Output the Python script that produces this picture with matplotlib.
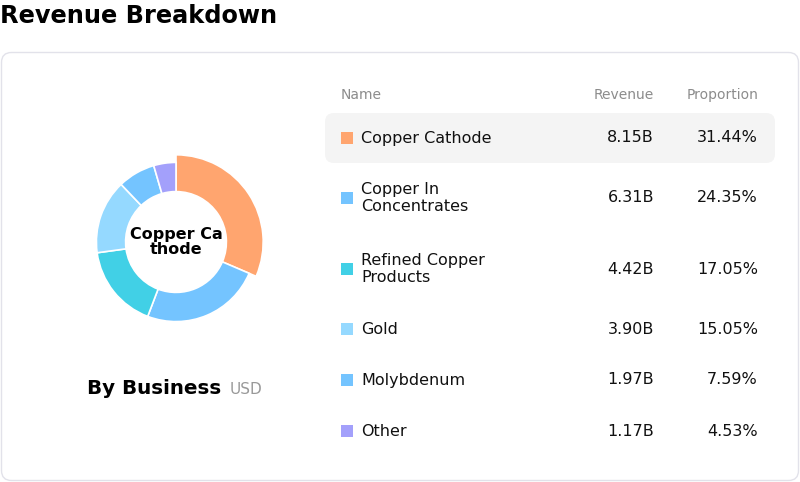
import matplotlib
matplotlib.use("Agg")
import matplotlib.pyplot as plt
from matplotlib.patches import FancyBboxPatch, Rectangle

# data
names = ["Copper Cathode", "Copper In\nConcentrates", "Refined Copper\nProducts",
         "Gold", "Molybdenum", "Other"]
revenue = [8.15, 6.31, 4.42, 3.90, 1.97, 1.17]
revenue_labels = ["8.15B", "6.31B", "4.42B", "3.90B", "1.97B", "1.17B"]
proportion_labels = ["31.44%", "24.35%", "17.05%", "15.05%", "7.59%", "4.53%"]
colors = ["#FFA56F", "#74C4FF", "#41D0E6", "#95D9FF", "#74C4FF", "#A3A0FB"]

W, H = 800, 482
fig = plt.figure(figsize=(W / 100, H / 100), dpi=100)

# full-figure axes in pixel units (y down)
bg = fig.add_axes([0, 0, 1, 1])
bg.set_xlim(0, W)
bg.set_ylim(H, 0)
bg.axis("off")

bg.text(0, 16, "Revenue Breakdown", fontsize=17.3, fontweight="bold",
        va="center", ha="left", color="#000000")

card = FancyBboxPatch((1.5, 52.5), 797, 428, boxstyle="round,pad=0,rounding_size=10",
                      facecolor="white", edgecolor="#E2E2EA", linewidth=1)
bg.add_patch(card)

# table
x_name, x_rev, x_prop = 341, 654, 758
bg.text(x_name, 95, "Name", fontsize=10, color="#8C8C8C", va="center", ha="left")
bg.text(x_rev, 95, "Revenue", fontsize=10, color="#8C8C8C", va="center", ha="right")
bg.text(x_prop, 95, "Proportion", fontsize=10, color="#8C8C8C", va="center", ha="right")

row_y = [138, 198, 269, 329, 380, 431]
hl = FancyBboxPatch((325, 113), 450, 50, boxstyle="round,pad=0,rounding_size=9",
                    facecolor="#F4F4F4", edgecolor="none")
bg.add_patch(hl)

for i, y in enumerate(row_y):
    bg.add_patch(Rectangle((x_name, y - 6), 12, 12, facecolor=colors[i], edgecolor="none"))
    bg.text(x_name + 20, y, names[i], fontsize=11.5, color="#111111", va="center",
            ha="left", linespacing=1.2)
    bg.text(x_rev, y, revenue_labels[i], fontsize=11.5, color="#111111", va="center", ha="right")
    bg.text(x_prop, y, proportion_labels[i], fontsize=11.5, color="#111111", va="center", ha="right")

# subtitle
bg.text(87, 389, "By Business", fontsize=14.3, fontweight="bold", va="center", ha="left")
bg.text(230, 389, "USD", fontsize=11, color="#999999", va="center", ha="left")

# donut (1 unit = 80 px)
cx, cy, box = 176, 242, 200
pie_ax = fig.add_axes([(cx - box / 2) / W, (H - cy - box / 2) / H, box / W, box / H])
pie_ax.set_xlim(-1.25, 1.25)
pie_ax.set_ylim(-1.25, 1.25)
pie_ax.set_aspect("equal")
pie_ax.axis("off")
inner = 0.63
wedges, _ = pie_ax.pie(revenue, colors=colors, startangle=90, counterclock=False,
                       radius=0.995,
                       wedgeprops=dict(width=0.995 - inner, edgecolor="white", linewidth=1.2))
# highlighted slice drawn larger
wedges[0].set_radius(1.09)
wedges[0].set_width(1.09 - inner)
pie_ax.text(0, 0, "Copper Ca\nthode", fontsize=11.5, fontweight="bold", ha="center",
            va="center", linespacing=0.95)

fig.savefig("out.png", dpi=100)
